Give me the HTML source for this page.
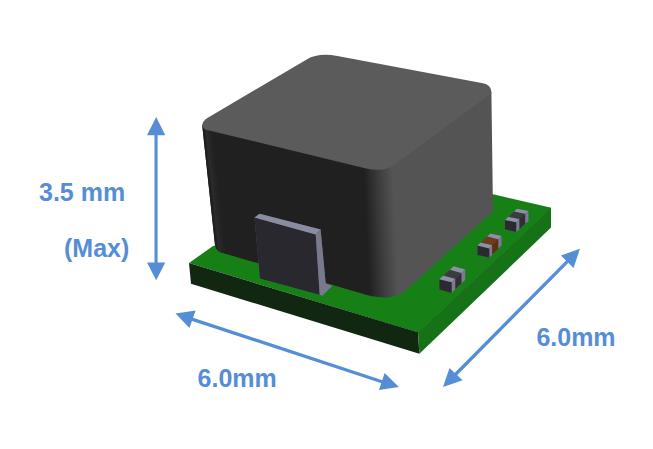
<!DOCTYPE html>
<html>
<head>
<meta charset="utf-8">
<title>Module dimensions</title>
<style>
html,body{margin:0;padding:0;background:#ffffff;}
body{width:653px;height:449px;overflow:hidden;font-family:"Liberation Sans",sans-serif;}
svg{display:block;position:absolute;left:0;top:0;}
.t{position:absolute;font-family:"Liberation Sans",sans-serif;font-weight:bold;font-size:25px;color:#558ed5;line-height:25px;white-space:pre;}
</style>
</head>
<body>
<svg width="653" height="449" viewBox="0 0 653 449">
<defs>
<linearGradient id="gSide" gradientUnits="userSpaceOnUse" x1="355.5" y1="0" x2="384.5" y2="0" gradientTransform="skewX(2.75)">
<stop offset="0" stop-color="#202020"/>
<stop offset="0.5" stop-color="#3c3c3c"/>
<stop offset="1" stop-color="#545454"/>
</linearGradient>
<linearGradient id="gLeft" gradientUnits="userSpaceOnUse" x1="188.9" y1="0" x2="200.9" y2="0" gradientTransform="skewX(6.09)">
<stop offset="0" stop-color="#191919" stop-opacity="1"/>
<stop offset="0.3" stop-color="#2b2b2b" stop-opacity="1"/>
<stop offset="1" stop-color="#212121" stop-opacity="0"/>
</linearGradient>
</defs>

<!-- PCB -->
<polygon points="189,263 418.3,332.6 551.3,207.8 492,194 213,246" fill="#168016"/>
<polygon points="189,263 418,332.3 419.4,353.8 191,283.8" fill="#112712"/>
<polygon points="418,332.3 551,207.6 551,227.6 419.4,353.8" fill="#167216"/>

<!-- body sides -->
<path d="M202.2,125 L215,245 Q216.5,251 221,252.5 L360,293 C376,297.8 392,301 406,290.2 L493,211.4 L491.4,92 L380,150 Z" fill="url(#gSide)"/>
<path d="M202.2,125 L215,245 Q216.5,251 221,252.5 L235,256 L222,131 Z" fill="url(#gLeft)"/>

<!-- top face -->
<path d="M207.4,118 L306.7,59.4 Q318.2,52.5 337.4,56 L483,83.3 Q490.6,84.8 491.3,91 L491.4,93.4 L393.4,165.4 Q382.9,172.7 364,168 L206,129.7 Q202.4,128.8 202.2,125 Q202.2,122 205.6,119.2 Z" fill="#5b5b5b"/>

<!-- tab -->
<polygon points="254.5,217.4 259.6,213.8 320.6,229.4 325.7,283.5 332.4,285.7 322.4,295.8 319.7,294.7 260,278.4" fill="#55566a"/>
<polygon points="254.5,217.4 315.7,234.5 319.7,294.7 260,278.4" fill="#28282e"/>
<polygon points="254.5,217.4 259.6,213.8 320.6,229.4 315.7,234.5" fill="#8a8ca0"/>
<polygon points="315.7,234.5 320.6,229.4 325.7,283.5 332.4,285.7 322.4,295.8 319.7,294.7" fill="#787a8c"/>


<!-- capacitors -->
<g>
<polygon points="439.4,279.2 453.6,266.2 465.2,269.4 465.2,280 451.8,293 439.4,289.4" fill="#55566a"/>
<polygon points="439.4,279.2 451.8,282.3 451.8,293 439.4,289.4" fill="#2a2a30"/>
<polygon points="439.4,279.2 443.4,275.6 455.4,278.7 451.8,282.3" fill="#8e90a4"/>
<polygon points="451.8,282.3 455.4,278.7 455.4,289 451.8,293" fill="#7a7c90"/>
<polygon points="443.4,275.6 450,269.8 461.6,272.9 455.4,278.7" fill="#3c3c40"/>
<polygon points="455.4,278.7 461.6,272.9 461.6,283 455.4,289" fill="#303034"/>
<polygon points="450,269.8 453.6,266.2 465.2,269.4 461.6,272.9" fill="#8e90a4"/>
<polygon points="461.6,272.9 465.2,269.4 465.2,280 461.6,283" fill="#7a7c90"/>
</g>
<g>
<polygon points="477.5,245.5 490.4,233.5 501.5,236.1 501.5,245.5 489.5,257.5 477.5,254.9" fill="#55566a"/>
<polygon points="477.5,245.5 489.5,248.4 489.5,257.5 477.5,254.9" fill="#2a2a30"/>
<polygon points="477.5,245.5 480.6,242.4 492.2,245 489.5,248.4" fill="#8e90a4"/>
<polygon points="489.5,248.4 492.2,245 492.2,254.5 489.5,257.5" fill="#7a7c90"/>
<polygon points="480.6,242.4 487.3,236.6 498.4,239.3 492.2,245" fill="#6e3c1a"/>
<polygon points="492.2,245 498.4,239.3 498.4,248.5 492.2,254.5" fill="#5c3012"/>
<polygon points="487.3,236.6 490.4,233.5 501.5,236.1 498.4,239.3" fill="#8e90a4"/>
<polygon points="498.4,239.3 501.5,236.1 501.5,245.5 498.4,248.5" fill="#7a7c90"/>
</g>
<g>
<polygon points="505,220 516.8,208.8 528.4,211 528.4,221.3 516.4,232 505,229.3" fill="#55566a"/>
<polygon points="505,220 516.4,222.2 516.4,232 505,229.3" fill="#2a2a30"/>
<polygon points="505,220 508.4,216.7 519.5,219 516.4,222.2" fill="#8e90a4"/>
<polygon points="516.4,222.2 519.5,219 519.5,229 516.4,232" fill="#7a7c90"/>
<polygon points="508.4,216.7 514.2,211.5 525.3,213.7 519.5,219" fill="#3c3c40"/>
<polygon points="519.5,219 525.3,213.7 525.3,223.5 519.5,229" fill="#303034"/>
<polygon points="514.2,211.5 516.8,208.8 528.4,211 525.3,213.7" fill="#8e90a4"/>
<polygon points="525.3,213.7 528.4,211 528.4,221.3 525.3,223.5" fill="#7a7c90"/>
</g>

<!-- arrows -->
<g fill="#558ed5" stroke="none">
<polygon points="156.2,117 147,135.2 165.3,135.2"/>
<polygon points="156.2,280.3 147,262.4 165.3,262.4"/>
<polygon points="175.5,313.5 195.6,310.5 189.5,327.9"/>
<polygon points="398.9,387.1 384.6,373 379,390.1"/>
<polygon points="443,387.1 449.5,368 462.6,380.3"/>
<polygon points="579.9,248.8 560.9,255.6 573.6,267.9"/>
</g>
<g stroke="#558ed5" stroke-width="3.3" fill="none">
<line x1="156.05" y1="130" x2="156.05" y2="267" stroke-width="3.1"/>
<line x1="188" y1="317.85" x2="385" y2="382.75"/>
<line x1="453" y1="377" x2="570" y2="258.8"/>
</g>
</svg>
<div class="t" style="left:39px;top:180px;">3.5 mm</div>
<div class="t" style="left:64px;top:236px;">(Max)</div>
<div class="t" style="left:197.6px;top:366px;">6.0mm</div>
<div class="t" style="left:536.4px;top:325px;">6.0mm</div>
</body>
</html>
